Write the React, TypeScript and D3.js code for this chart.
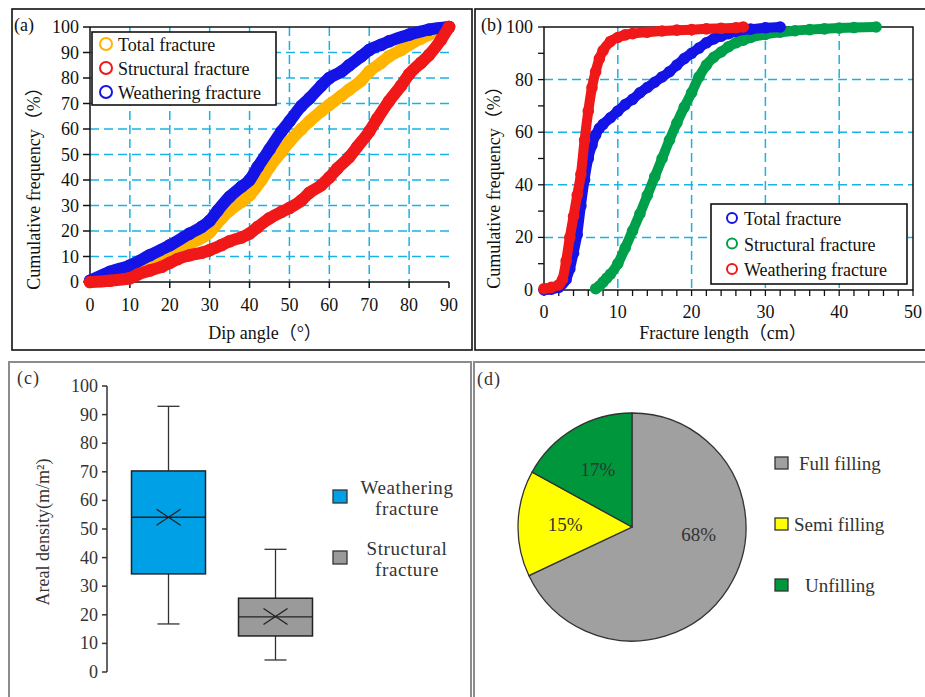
import React from "react";
import * as d3 from "d3";

const FONT = "'Liberation Serif', 'Times New Roman', 'Noto Sans CJK SC', serif";

// ---------- Panel (a): dip angle cumulative frequency ----------
const dipTicksX = [0, 10, 20, 30, 40, 50, 60, 70, 80, 90];
const dipTicksY = [0, 10, 20, 30, 40, 50, 60, 70, 80, 90, 100];
const dipLegend = ["Total fracture", "Structural fracture", "Weathering fracture"];

const dipTotalX = [0, 5, 10, 15, 20, 25, 30, 33, 35, 38, 40, 43, 45, 48, 50, 53, 55, 58, 60, 63, 65, 68, 70, 73, 75, 78, 80, 83, 85, 90];
const dipTotalY = [0, 2, 4.5, 8, 11.5, 15, 19.5, 25, 28, 31.5, 34, 40, 45, 51, 55, 60, 63, 67, 69.5, 73, 75.5, 79, 82.5, 86, 88.5, 91, 93, 95.5, 97, 100];

const dipStructX = [0, 5, 10, 12, 15, 18, 20, 22, 25, 28, 30, 33, 35, 38, 40, 42, 45, 48, 50, 53, 55, 58, 60, 62, 65, 67, 70, 72, 75, 78, 80, 83, 85, 88, 90];
const dipStructY = [0, 0.5, 1.5, 3, 4.5, 6, 7.5, 9, 10.5, 11.5, 12.5, 14.5, 16, 17.5, 19, 21.5, 25, 27.5, 29, 32, 35, 38, 41, 44.5, 49, 53, 59, 64, 71, 77, 81.5, 86, 89, 95, 100];

const dipWeathX = [0, 5, 10, 15, 20, 25, 28, 30, 32, 35, 38, 40, 42, 45, 48, 50, 53, 55, 58, 60, 63, 65, 68, 70, 73, 75, 80, 85, 90];
const dipWeathY = [0.5, 4, 6.5, 10.5, 14.4, 19, 21.6, 24, 28, 33.4, 37.4, 40, 45, 52, 59, 63, 69, 72, 77, 80, 82.5, 85, 88.5, 91, 93, 94.4, 97, 99, 100];

// ---------- Panel (b): fracture length cumulative frequency ----------
const lenTicksX = [0, 10, 20, 30, 40, 50];
const lenTicksY = [0, 20, 40, 60, 80, 100];
const lenLegend = ["Total fracture", "Structural fracture", "Weathering fracture"];

const lenTotalX = [0, 1, 2, 3, 3.5, 4, 4.5, 5, 5.5, 6, 6.5, 7, 7.5, 8, 9, 10, 11, 12, 13, 14, 15, 16, 17, 18, 19, 20, 21, 22, 23, 24, 25, 26, 28, 30, 32];
const lenTotalY = [0, 0.3, 1, 4, 8, 14, 21, 32, 42, 50, 55, 59, 61.5, 63, 65.5, 68, 70.5, 72.5, 75, 77, 79, 81, 83, 85.5, 88, 90, 92, 94, 95.5, 96.5, 97.5, 98.3, 99.2, 99.7, 100];

const lenStructX = [7, 7.5, 8, 8.5, 9, 10, 11, 12, 13, 14, 15, 16, 17, 18, 19, 20, 21, 22, 23, 24, 25, 26, 27, 28, 30, 32, 34, 36, 38, 40, 42, 45];
const lenStructY = [0.5, 1.5, 3, 4.5, 6, 10, 16, 22.5, 29, 36, 43, 50, 57, 63.5, 69.5, 75, 81, 85.5, 88.5, 90.5, 92.5, 94, 95, 96, 97.2, 98, 98.6, 99, 99.3, 99.6, 99.8, 100];

const lenWeathX = [0, 1, 2, 2.5, 3, 3.5, 4, 4.5, 5, 5.5, 6, 6.5, 7, 7.5, 8, 9, 10, 11, 12, 14, 16, 18, 20, 22, 24, 26, 27];
const lenWeathY = [0.5, 1, 2, 4, 11, 20, 28, 36, 44, 57, 68, 77, 83, 88, 91, 94.5, 96, 97, 97.5, 98, 98.5, 98.8, 99, 99.3, 99.5, 99.7, 100];

// ---------- Panel (c): areal density box plot ----------
const boxCategories = ["Weathering fracture", "Structural fracture"];
const boxMin = [16.8, 4.2];
const boxQ1 = [34.3, 12.6];
const boxMedian = [54.1, 19.3];
const boxQ3 = [70.3, 25.8];
const boxMax = [92.9, 42.9];
const boxMean = [54.1, 19.4];
const boxTicksY = [0, 10, 20, 30, 40, 50, 60, 70, 80, 90, 100];
const boxLegendLines = [["Weathering", "fracture"], ["Structural", "fracture"]];

// ---------- Panel (d): filling pie ----------
const fillLabels = ["Full filling", "Semi filling", "Unfilling"];
const fillPct = [68, 15, 17];

// ---------- styles ----------
const C_ORANGE = "#ffb400";
const C_RED = "#f01818";
const C_BLUE = "#1414e6";
const C_GREEN = "#00a04b";
const C_GRID = "#19b2e6";
const C_BOX_BLUE = "#00a0e6";
const C_BOX_GRAY = "#9a9a9a";
const PIE_COLORS = ["#a0a0a0", "#ffff00", "#00963c"];

function zip(xs: number[], ys: number[]): [number, number][] {
  return xs.map((x, i) => [x, ys[i]]);
}

export default function App() {
  // Panel A scales
  const ax = d3.scaleLinear().domain([0, 90]).range([90, 449]);
  const ay = d3.scaleLinear().domain([0, 100]).range([282, 27]);
  const lineA = d3
    .line<[number, number]>()
    .x((d) => ax(d[0]))
    .y((d) => ay(d[1]))
    .curve(d3.curveMonotoneX);

  const seriesA = [
    { name: dipLegend[0], pts: zip(dipTotalX, dipTotalY), color: C_ORANGE },
    { name: dipLegend[2], pts: zip(dipWeathX, dipWeathY), color: C_BLUE },
    { name: dipLegend[1], pts: zip(dipStructX, dipStructY), color: C_RED },
  ];
  const legendA = [
    { name: dipLegend[0], color: C_ORANGE },
    { name: dipLegend[1], color: C_RED },
    { name: dipLegend[2], color: C_BLUE },
  ];

  // Panel B scales
  const bx = d3.scaleLinear().domain([0, 50]).range([544, 913]);
  const by = d3.scaleLinear().domain([0, 100]).range([290, 27]);
  const lineB = d3
    .line<[number, number]>()
    .x((d) => bx(d[0]))
    .y((d) => by(d[1]))
    .curve(d3.curveMonotoneX);
  const seriesB = [
    { name: lenLegend[1], pts: zip(lenStructX, lenStructY), color: C_GREEN },
    { name: lenLegend[0], pts: zip(lenTotalX, lenTotalY), color: C_BLUE },
    { name: lenLegend[2], pts: zip(lenWeathX, lenWeathY), color: C_RED },
  ];
  const legendB = [
    { name: lenLegend[0], color: C_BLUE },
    { name: lenLegend[1], color: C_GREEN },
    { name: lenLegend[2], color: C_RED },
  ];
  const minorBX = bx.ticks(25);
  const minorBY = by.ticks(10);

  // Panel C scales
  const cy = d3.scaleLinear().domain([0, 100]).range([672, 386]);
  const cx = d3.scalePoint<string>().domain(boxCategories).range([168.5, 275.5]);
  const boxW = 74;
  const boxFill = [C_BOX_BLUE, C_BOX_GRAY];

  // Panel D
  const pcx = 632;
  const pcy = 527;
  const pr = 114;
  const pie = d3.pie<number>().sort(null).value((d) => d)(fillPct);
  const arc = d3.arc<d3.PieArcDatum<number>>().innerRadius(0).outerRadius(pr);
  const labelArc = d3.arc<d3.PieArcDatum<number>>().innerRadius(64).outerRadius(70);
  const labelAngleShift = [-0.45, 0, 0];

  const gridDash = "9 5";

  return (
    <svg
      width={925}
      height={697}
      style={{ position: "absolute", left: 0, top: 0, background: "#fff" }}
      fontFamily={FONT}
    >
      <rect x={0} y={0} width={925} height={697} fill="#fff" />

      {/* ===== Panel frames ===== */}
      <rect x={12} y={9} width={460} height={341} fill="none" stroke="#111" strokeWidth={1.6} />
      <rect x={475} y={9} width={460} height={341} fill="none" stroke="#111" strokeWidth={1.6} />
      <rect x={9} y={362} width={462} height={345} fill="none" stroke="#8c8c8c" strokeWidth={2} />
      <rect x={474} y={362} width={460} height={345} fill="none" stroke="#8c8c8c" strokeWidth={2} />

      {/* ===== Panel (a) ===== */}
      <g>
        <text x={14} y={31} fontSize={18} fill="#111">(a)</text>
        {dipTicksX.filter((t) => t > 0 && t < 90).map((t) => (
          <line key={"agx" + t} x1={ax(t)} x2={ax(t)} y1={ay(100)} y2={ay(0)} stroke={C_GRID} strokeWidth={1.5} strokeDasharray={gridDash} />
        ))}
        {dipTicksY.filter((t) => t > 0 && t < 100).map((t) => (
          <line key={"agy" + t} x1={ax(0)} x2={ax(90)} y1={ay(t)} y2={ay(t)} stroke={C_GRID} strokeWidth={1.5} strokeDasharray={gridDash} />
        ))}
        {/* axes */}
        <line x1={ax(0)} x2={ax(0)} y1={ay(0)} y2={ay(100)} stroke="#111" strokeWidth={1.5} />
        <line x1={ax(0)} x2={ax(90)} y1={ay(0)} y2={ay(0)} stroke="#111" strokeWidth={1.5} />
        <line x1={ax(0)} x2={ax(90)} y1={ay(100)} y2={ay(100)} stroke="#111" strokeWidth={1.5} />
        {dipTicksY.map((t) => (
          <g key={"aty" + t}>
            <line x1={ax(0) - 7} x2={ax(0)} y1={ay(t)} y2={ay(t)} stroke="#111" strokeWidth={1.5} />
            <text x={ax(0) - 11} y={ay(t)} fontSize={18} textAnchor="end" dominantBaseline="central" fill="#111">{t}</text>
          </g>
        ))}
        {dipTicksX.map((t) => (
          <g key={"atx" + t}>
            <line x1={ax(t)} x2={ax(t)} y1={ay(0)} y2={ay(0) + 6} stroke="#111" strokeWidth={1.5} />
            <text x={ax(t)} y={ay(0) + 29} fontSize={18} textAnchor="middle" fill="#111">{t}</text>
          </g>
        ))}
        <text x={265} y={339} fontSize={18} textAnchor="middle" fill="#111">Dip angle（°）</text>
        <text transform="translate(34,184) rotate(-90)" fontSize={18} textAnchor="middle" dominantBaseline="central" fill="#111">Cumulative frequency（%）</text>

        {/* series */}
        {seriesA.map((s) => (
          <g key={"as" + s.name}>
            <path d={lineA(s.pts) || ""} fill="none" stroke={s.color} strokeWidth={12} strokeLinecap="round" strokeLinejoin="round" />
            {s.pts.map((p, i) => (
              <circle key={i} cx={ax(p[0])} cy={ay(p[1])} r={5.5} fill="none" stroke={s.color} strokeWidth={1.6} />
            ))}
          </g>
        ))}

        {/* legend */}
        <rect x={92} y={32} width={184} height={73} fill="#fff" stroke="#111" strokeWidth={1.6} />
        {legendA.map((l, i) => (
          <g key={"al" + l.name}>
            <circle cx={106} cy={44 + i * 24} r={6} fill="none" stroke={l.color} strokeWidth={2} />
            <text x={118} y={45 + i * 24} fontSize={18} dominantBaseline="central" fill="#111">{l.name}</text>
          </g>
        ))}
      </g>

      {/* ===== Panel (b) ===== */}
      <g>
        <text x={481} y={31} fontSize={18} fill="#111">(b)</text>
        {lenTicksX.filter((t) => t > 0 && t < 50).map((t) => (
          <line key={"bgx" + t} x1={bx(t)} x2={bx(t)} y1={by(100)} y2={by(0)} stroke={C_GRID} strokeWidth={1.5} strokeDasharray={gridDash} />
        ))}
        {lenTicksY.filter((t) => t > 0 && t < 100).map((t) => (
          <line key={"bgy" + t} x1={bx(0)} x2={bx(50)} y1={by(t)} y2={by(t)} stroke={C_GRID} strokeWidth={1.5} strokeDasharray={gridDash} />
        ))}
        <rect x={bx(0)} y={by(100)} width={bx(50) - bx(0)} height={by(0) - by(100)} fill="none" stroke="#111" strokeWidth={1.5} />
        {minorBX.map((t) => (
          <line key={"bmx" + t} x1={bx(t)} x2={bx(t)} y1={by(0)} y2={by(0) + 6} stroke="#111" strokeWidth={1.3} />
        ))}
        {minorBY.map((t) => (
          <line key={"bmy" + t} x1={bx(0) - 6} x2={bx(0)} y1={by(t)} y2={by(t)} stroke="#111" strokeWidth={1.3} />
        ))}
        {lenTicksY.map((t) => (
          <text key={"bty" + t} x={bx(0) - 11} y={by(t)} fontSize={18} textAnchor="end" dominantBaseline="central" fill="#111">{t}</text>
        ))}
        {lenTicksX.map((t) => (
          <text key={"btx" + t} x={bx(t)} y={by(0) + 28} fontSize={18} textAnchor="middle" fill="#111">{t}</text>
        ))}
        <text x={723} y={339} fontSize={18} textAnchor="middle" fill="#111">Fracture length（cm）</text>
        <text transform="translate(494,183) rotate(-90)" fontSize={18} textAnchor="middle" dominantBaseline="central" fill="#111">Cumulative frequency（%）</text>

        {seriesB.map((s) => (
          <g key={"bs" + s.name}>
            <path d={lineB(s.pts) || ""} fill="none" stroke={s.color} strokeWidth={10} strokeLinecap="round" strokeLinejoin="round" />
            {s.pts.map((p, i) => (
              <circle key={i} cx={bx(p[0])} cy={by(p[1])} r={5} fill="#fff" fillOpacity={0} stroke={s.color} strokeWidth={1.6} />
            ))}
          </g>
        ))}

        <rect x={711} y={204} width={196} height={80} fill="#fff" stroke="#111" strokeWidth={1.6} />
        {legendB.map((l, i) => (
          <g key={"bl" + l.name}>
            <circle cx={732} cy={218 + i * 25.5} r={5} fill="none" stroke={l.color} strokeWidth={2} />
            <text x={744} y={219 + i * 25.5} fontSize={18} dominantBaseline="central" fill="#111">{l.name}</text>
          </g>
        ))}
      </g>

      {/* ===== Panel (c) ===== */}
      <g>
        <text x={17} y={384} fontSize={18} fill="#333" letterSpacing={1}>(c)</text>
        <line x1={107} x2={107} y1={cy(0)} y2={cy(100)} stroke="#333" strokeWidth={1.5} />
        {boxTicksY.map((t) => (
          <g key={"cty" + t}>
            <line x1={102} x2={107} y1={cy(t)} y2={cy(t)} stroke="#333" strokeWidth={1.5} />
            <text x={98} y={cy(t)} fontSize={18} textAnchor="end" dominantBaseline="central" fill="#333">{t}</text>
          </g>
        ))}
        <text transform="translate(43,532) rotate(-90)" fontSize={18} textAnchor="middle" dominantBaseline="central" fill="#333">Areal density(m/m²)</text>

        {boxCategories.map((c, i) => {
          const x = cx(c) as number;
          return (
            <g key={"cb" + c}>
              <line x1={x} x2={x} y1={cy(boxMax[i])} y2={cy(boxQ3[i])} stroke="#333" strokeWidth={1.3} />
              <line x1={x} x2={x} y1={cy(boxQ1[i])} y2={cy(boxMin[i])} stroke="#333" strokeWidth={1.3} />
              <line x1={x - 11} x2={x + 11} y1={cy(boxMax[i])} y2={cy(boxMax[i])} stroke="#333" strokeWidth={1.3} />
              <line x1={x - 11} x2={x + 11} y1={cy(boxMin[i])} y2={cy(boxMin[i])} stroke="#333" strokeWidth={1.3} />
              <rect x={x - boxW / 2} y={cy(boxQ3[i])} width={boxW} height={cy(boxQ1[i]) - cy(boxQ3[i])} fill={boxFill[i]} stroke="#222" strokeWidth={1.5} />
              <line x1={x - boxW / 2} x2={x + boxW / 2} y1={cy(boxMedian[i])} y2={cy(boxMedian[i])} stroke="#222" strokeWidth={1.3} />
              <line x1={x - 12} x2={x + 12} y1={cy(boxMean[i]) - 8} y2={cy(boxMean[i]) + 8} stroke="#222" strokeWidth={1.3} />
              <line x1={x - 12} x2={x + 12} y1={cy(boxMean[i]) + 8} y2={cy(boxMean[i]) - 8} stroke="#222" strokeWidth={1.3} />
            </g>
          );
        })}

        {boxLegendLines.map((lines, i) => (
          <g key={"clg" + i}>
            <rect x={333} y={490 + i * 61} width={14} height={13} fill={boxFill[i]} stroke="#333" strokeWidth={1.3} />
            <text x={407} y={487 + i * 61} fontSize={19} textAnchor="middle" dominantBaseline="central" fill="#333" letterSpacing={0.6}>{lines[0]}</text>
            <text x={407} y={508 + i * 61} fontSize={19} textAnchor="middle" dominantBaseline="central" fill="#333" letterSpacing={0.6}>{lines[1]}</text>
          </g>
        ))}
      </g>

      {/* ===== Panel (d) ===== */}
      <g>
        <text x={477} y={385} fontSize={18} fill="#333" letterSpacing={1}>(d)</text>
        <g transform={`translate(${pcx},${pcy})`}>
          {pie.map((p, i) => (
            <path key={"pd" + i} d={arc(p) || ""} fill={PIE_COLORS[i]} stroke="#333" strokeWidth={1.3} />
          ))}
          {pie.map((p, i) => {
            const shifted = {
              ...p,
              startAngle: p.startAngle + labelAngleShift[i],
              endAngle: p.endAngle + labelAngleShift[i],
            };
            const [lx, ly] = labelArc.centroid(shifted);
            return (
              <text key={"pl" + i} x={lx} y={ly} fontSize={19} textAnchor="middle" dominantBaseline="central" fill="#333">
                {fillPct[i]}%
              </text>
            );
          })}
        </g>
        {fillLabels.map((l, i) => (
          <g key={"dl" + l}>
            <rect x={775} y={457 + i * 61} width={13} height={12} fill={PIE_COLORS[i]} stroke="#333" strokeWidth={1.3} />
            <text x={[799, 794, 805][i]} y={463 + i * 61} fontSize={19} dominantBaseline="central" fill="#333">{l}</text>
          </g>
        ))}
      </g>
    </svg>
  );
}
